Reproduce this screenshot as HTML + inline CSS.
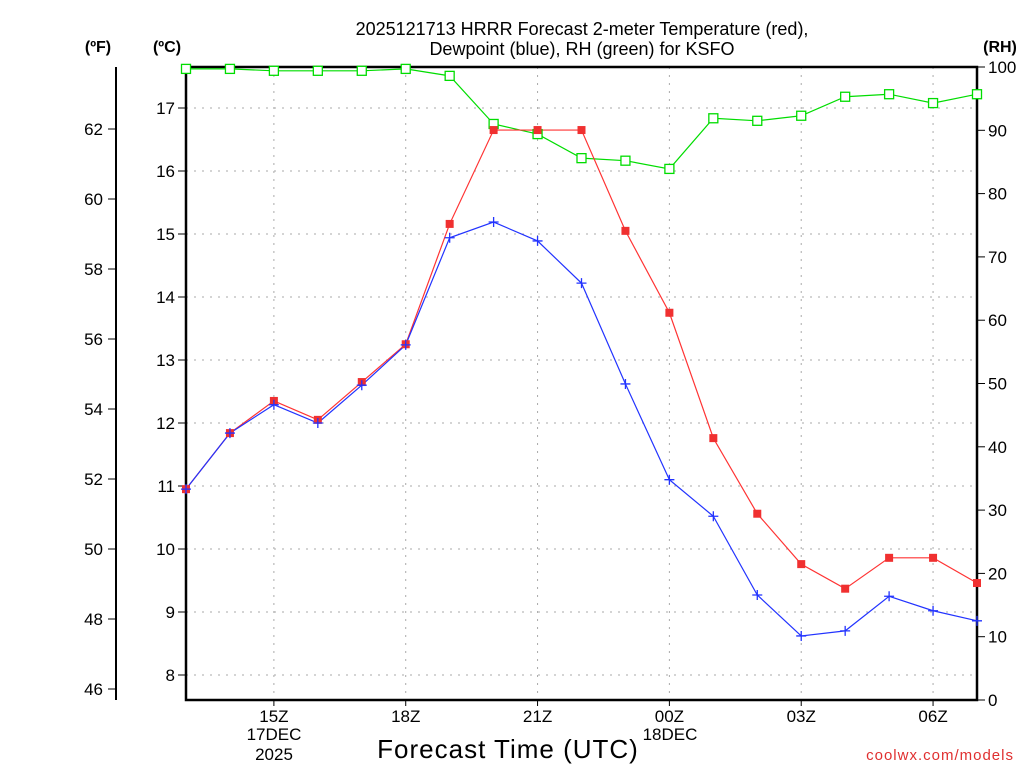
<!DOCTYPE html>
<html><head><meta charset="utf-8"><style>
body{margin:0;background:#fff;}
svg{display:block;font-family:"Liberation Sans",sans-serif;}
</style></head><body>
<svg id="chart" width="1024" height="768">
<text x="582" y="35" text-anchor="middle" font-size="18">2025121713 HRRR Forecast 2-meter Temperature (red),</text>
<text x="582" y="55" text-anchor="middle" font-size="18">Dewpoint (blue), RH (green) for KSFO</text>
<text x="98" y="52" text-anchor="middle" font-size="16" font-weight="bold">(ºF)</text>
<text x="167" y="52" text-anchor="middle" font-size="16" font-weight="bold">(ºC)</text>
<text x="1000" y="52" text-anchor="middle" font-size="16" font-weight="bold">(RH)</text>
<text x="508" y="758" text-anchor="middle" font-size="26" letter-spacing="1">Forecast Time (UTC)</text>
<text x="1014" y="760" text-anchor="end" font-size="15" fill="#e03030" letter-spacing="1">coolwx.com/models</text>
<g id="grid"></g><g id="axes"></g><g id="series"></g>
</svg>
<script>
const hours=["13","14","15","16","17","18","19","20","21","22","23","00","01","02","03","04","05","06","07"];
const tempC=[10.95,11.84,12.35,12.05,12.65,13.25,15.16,16.65,16.65,16.65,15.05,13.75,11.76,10.56,9.76,9.37,9.86,9.86,9.46];
const dewC=[10.95,11.84,12.29,12.0,12.6,13.24,14.94,15.19,14.89,14.22,12.62,11.10,10.52,9.27,8.62,8.70,9.25,9.02,8.86];
const rh=[99.7,99.7,99.4,99.4,99.4,99.7,98.6,91.0,89.4,85.6,85.2,83.9,91.9,91.5,92.3,95.3,95.7,94.3,95.7];
const cTicks=[8,9,10,11,12,13,14,15,16,17];
const fTicks=[46,48,50,52,54,56,58,60,62];
const rhTicks=[0,10,20,30,40,50,60,70,80,90,100];
const xTickIdx=[2,5,8,11,14,17];
const xTickLabels=["15Z","18Z","21Z","00Z","03Z","06Z"];
const L=186,R=977,T=67,B=700;
const NS="http://www.w3.org/2000/svg";
const xS=i=>L+(R-L)*i/(hours.length-1);
const yC=c=>108+(17-c)*63;
const yF=f=>yC((f-32)*5/9);
const yRH=v=>B-(B-T)*v/100;
function mk(p,tag,a){const e=document.createElementNS(NS,tag);for(const k in a)e.setAttribute(k,a[k]);p.appendChild(e);return e;}
const grid=document.getElementById('grid'),axes=document.getElementById('axes'),ser=document.getElementById('series');
cTicks.forEach(c=>{const y=yC(c);
 const g=mk(grid,'line',{x1:L,x2:R,y1:y,y2:y,stroke:'#aaa','stroke-dasharray':'2,6'});
 
 mk(axes,'line',{x1:L-8,x2:L,y1:y,y2:y,stroke:'#000'});
 const t=mk(axes,'text',{x:L-11,y:y+6,'text-anchor':'end','font-size':'17'});t.textContent=c;
 });
fTicks.forEach(f=>{const y=yF(f);
 mk(axes,'line',{x1:108,x2:116,y1:y,y2:y,stroke:'#000'});
 const t=mk(axes,'text',{x:103,y:y+6,'text-anchor':'end','font-size':'17'});t.textContent=f;
 });
rhTicks.forEach(v=>{const y=yRH(v);
 mk(axes,'line',{x1:R,x2:R+8,y1:y,y2:y,stroke:'#000'});
 const t=mk(axes,'text',{x:R+11,y:y+6,'font-size':'17'});t.textContent=v;
 });
xTickIdx.forEach((i,k)=>{const x=xS(i);
 const g=mk(grid,'line',{x1:x,x2:x,y1:T,y2:B,stroke:'#aaa','stroke-dasharray':'2,6'});
 
 mk(axes,'line',{x1:x,x2:x,y1:B,y2:B+6,stroke:'#000'});
 const t=mk(axes,'text',{x:x,y:722,'text-anchor':'middle','font-size':'17'});t.textContent=xTickLabels[k];
 });
[[274,740,"17DEC"],[274,760,"2025"],[670,740,"18DEC"]].forEach(d=>{const t=mk(axes,'text',{x:d[0],y:d[1],'text-anchor':'middle','font-size':'17'});t.textContent=d[2];
 });
const box=mk(axes,'rect',{x:L,y:T,width:R-L,height:B-T,fill:'none',stroke:'#000','stroke-width':'2.5'});

const fax=mk(axes,'line',{x1:116,x2:116,y1:T,y2:B,stroke:'#000','stroke-width':'2'});

function line(vals,yf,col,name){const pts=vals.map((v,i)=>xS(i)+','+yf(v)).join(' ');
 const p=mk(ser,'polyline',{points:pts,fill:'none',stroke:col,'stroke-width':'1.2'});
 }
line(rh,yRH,'#00dd00','rh');line(tempC,yC,'#ff3333','temperature');line(dewC,yC,'#2233ff','dewpoint');
rh.forEach((v,i)=>{const m=mk(ser,'rect',{x:xS(i)-4.5,y:yRH(v)-4.5,width:9,height:9,fill:'#fff',stroke:'#00dd00','stroke-width':'1.3'});
 });
tempC.forEach((v,i)=>{const m=mk(ser,'rect',{x:xS(i)-4,y:yC(v)-4,width:8,height:8,fill:'#f03030'});
 });
dewC.forEach((v,i)=>{const x=xS(i),y=yC(v);
 const m=mk(ser,'path',{d:`M${x-5},${y}H${x+5}M${x},${y-5}V${y+5}`,stroke:'#2233ff','stroke-width':'1.3'});
 });
</script>
</body></html>
